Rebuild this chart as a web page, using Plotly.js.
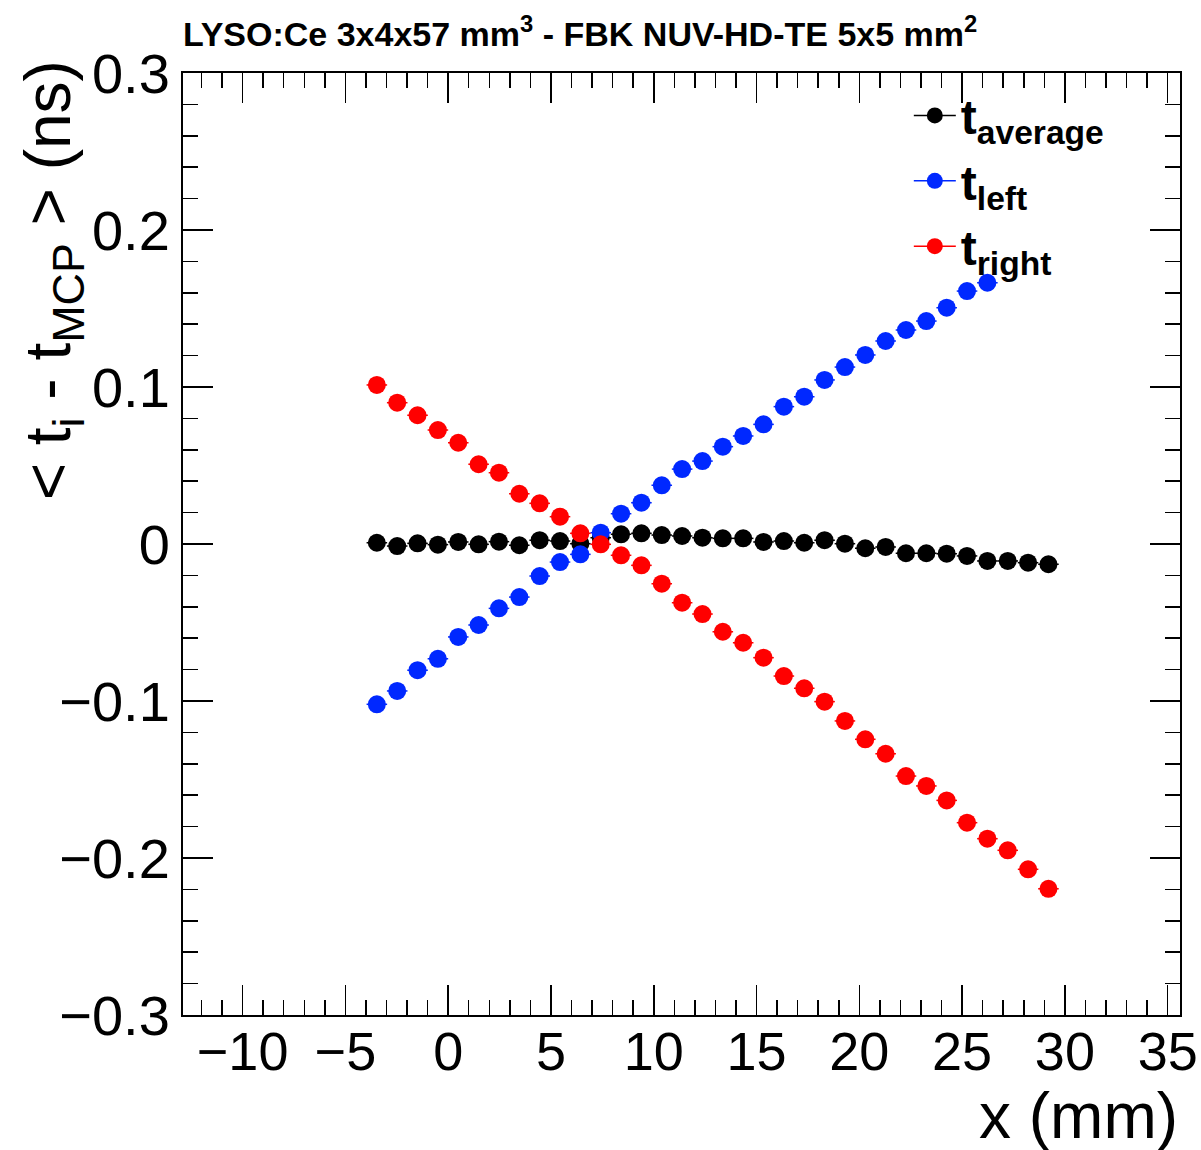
<!DOCTYPE html>
<html>
<head>
<meta charset="utf-8">
<script src="https://cdn.plot.ly/plotly-3.0.1.min.js"></script>
<style>
  html, body { margin: 0; padding: 0; background: #fff; }
  #chart { width: 1201px; height: 1150px; }
</style>
</head>
<body>
<div id="chart"></div>
<script>
// x positions of the scan points (mm)
const xPos = [-3.47, -2.48, -1.49, -0.50, 0.49, 1.48, 2.47, 3.46, 4.45, 5.44,
              6.43, 7.42, 8.41, 9.40, 10.39, 11.38, 12.37, 13.36, 14.35, 15.34,
              16.33, 17.32, 18.31, 19.30, 20.29, 21.28, 22.27, 23.26, 24.25, 25.24,
              26.23, 27.22, 28.21, 29.20];

// <t_average - t_MCP> (ns)
const tAverage = [0.0008, -0.0013, 0.0004, -0.0004, 0.0013, -0.0002, 0.0015, -0.0008, 0.0024, 0.0019,
                  0.0002, 0.0040, 0.0062, 0.0068, 0.0057, 0.0051, 0.0040, 0.0036, 0.0036, 0.0013,
                  0.0019, 0.0008, 0.0024, 0.0002, -0.0027, -0.0019, -0.0059, -0.0059, -0.0062, -0.0076,
                  -0.0108, -0.0108, -0.0119, -0.0129];

// <t_left - t_MCP> (ns)
const tLeft = [-0.1021, -0.0936, -0.0804, -0.0731, -0.0592, -0.0516, -0.0410, -0.0338, -0.0204, -0.0115,
               -0.0066, 0.0072, 0.0193, 0.0263, 0.0374, 0.0477, 0.0528, 0.0620, 0.0688, 0.0762,
               0.0875, 0.0938, 0.1045, 0.1127, 0.1204, 0.1293, 0.1363, 0.1420, 0.1505, 0.1611,
               0.1664];

// <t_right - t_MCP> (ns)
const tRight = [0.1013, 0.0900, 0.0820, 0.0726, 0.0645, 0.0508, 0.0454, 0.0320, 0.0259, 0.0174,
                0.0068, -0.0002, -0.0072, -0.0136, -0.0253, -0.0374, -0.0446, -0.0559, -0.0629, -0.0724,
                -0.0841, -0.0919, -0.1004, -0.1127, -0.1244, -0.1336, -0.1478, -0.1541, -0.1633, -0.1775,
                -0.1877, -0.1951, -0.2072, -0.2196];

const seriesNames = ['t<sub>average</sub>', 't<sub>left</sub>', 't<sub>right</sub>'];
const seriesColors = ['#000000', '#0028ff', '#ff0000'];
const seriesValues = [tAverage, tLeft, tRight];

const FONT = 'Liberation Sans, Arial, Helvetica, sans-serif';

const traces = seriesValues.map((vals, i) => ({
  type: 'scatter',
  mode: 'lines+markers',
  name: seriesNames[i],
  x: xPos.slice(0, vals.length),
  y: vals,
  marker: { symbol: 'circle', size: 18, color: seriesColors[i], line: { width: 0 } },
  line: { color: seriesColors[i], width: 1.5 },
  error_x: { type: 'constant', value: 0.5, color: seriesColors[i], thickness: 1.5, width: 0 },
  cliponaxis: false
}));

const axisCommon = {
  showline: true, linecolor: '#000', linewidth: 2, mirror: 'ticks',
  ticks: 'inside', ticklen: 30, tickwidth: 1.5, tickcolor: '#000',
  showgrid: false, zeroline: false
};

const layout = {
  width: 1201, height: 1150,
  margin: { l: 183, r: 21, t: 73, b: 135 },
  paper_bgcolor: '#fff', plot_bgcolor: '#fff',
  showlegend: true,
  title: {
    text: 'LYSO:Ce 3x4x57 mm<sup>3</sup> - FBK NUV-HD-TE 5x5 mm<sup>2</sup>',
    font: { family: FONT, size: 34, color: '#000', weight: 'bold' },
    xref: 'paper', x: 0, xanchor: 'left',
    yref: 'container', y: 1 - 34 / 1150, yanchor: 'middle'
  },
  xaxis: Object.assign({}, axisCommon, {
    range: [-12.9, 35.6], dtick: 5, tick0: 0,
    minor: { ticks: 'inside', ticklen: 15, dtick: 1, tickwidth: 1.5, tickcolor: '#000' },
    tickfont: { family: FONT, size: 54, color: '#000' },
    ticklabelstandoff: -12
  }),
  yaxis: Object.assign({}, axisCommon, {
    range: [-0.3, 0.3], dtick: 0.1, tick0: 0,
    minor: { ticks: 'inside', ticklen: 15, dtick: 0.02, tickwidth: 1.5, tickcolor: '#000' },
    tickfont: { family: FONT, size: 56, color: '#000' },
    ticklabelstandoff: 0
  }),
  legend: {
    x: 0.728, y: 0.995, xanchor: 'left', yanchor: 'top',
    bgcolor: 'rgba(0,0,0,0)', borderwidth: 0,
    font: { family: FONT, size: 48, color: '#000', weight: 'bold' },
    itemwidth: 42, tracegroupgap: 0
  },
  annotations: [
    {
      text: '< t<sub>i</sub> - t<sub>MCP</sub> > (ns)',
      xref: 'paper', yref: 'paper', x: -0.131, y: 1.016, xanchor: 'center', yanchor: 'top',
      textangle: -90, showarrow: false,
      font: { family: FONT, size: 64, color: '#000' }
    },
    {
      text: 'x (mm)',
      xref: 'paper', yref: 'paper', x: 1.0, y: -0.107, xanchor: 'right', yanchor: 'middle',
      showarrow: false,
      font: { family: FONT, size: 64, color: '#000' }
    }
  ]
};

Plotly.newPlot('chart', traces, layout, { displayModeBar: false, staticPlot: true }).then(() => {
  // keep the connecting line only in the legend symbols, as in the reference
  document.querySelectorAll('.scatterlayer .js-line').forEach(p => { p.style.strokeOpacity = 0; });
});
</script>
</body>
</html>
